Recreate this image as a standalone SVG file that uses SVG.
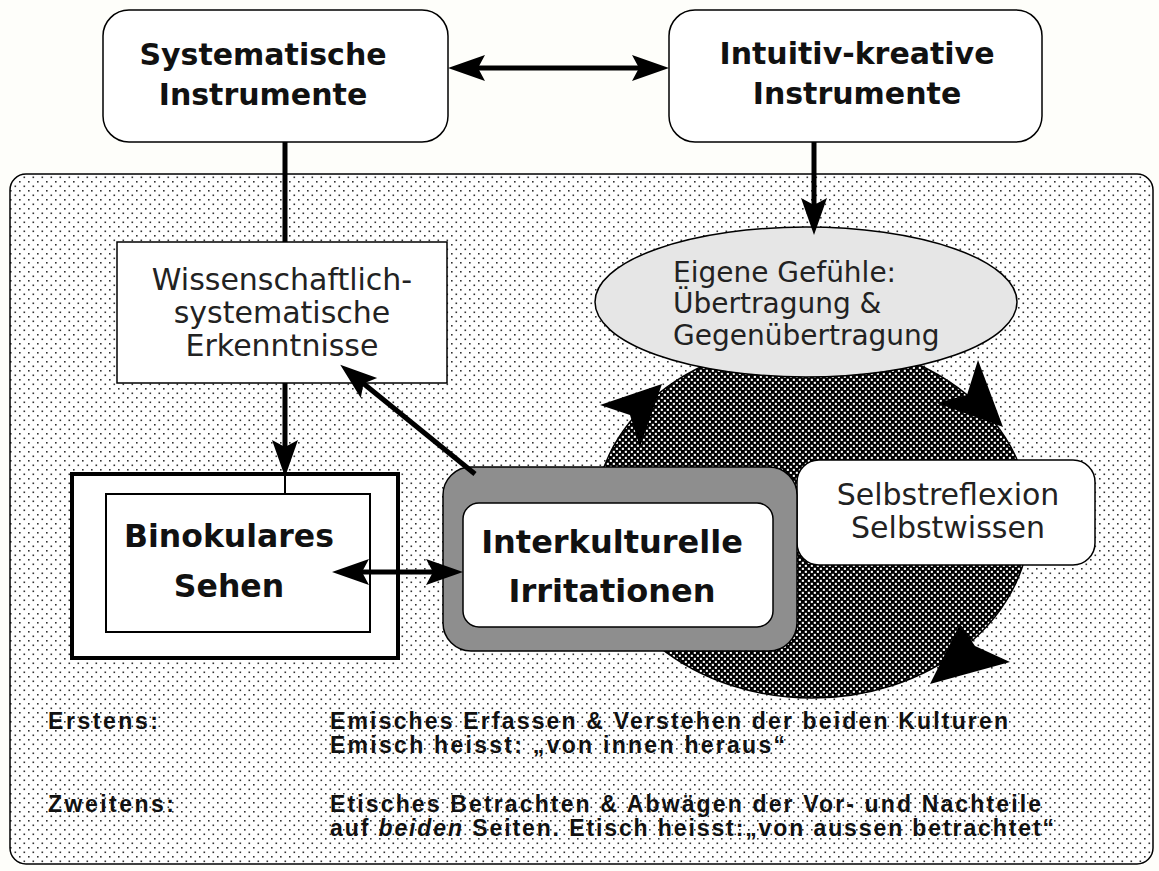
<svg xmlns="http://www.w3.org/2000/svg" width="1159" height="871" viewBox="0 0 1159 871">
<defs>
<pattern id="dots" width="9" height="9" patternUnits="userSpaceOnUse">
<rect width="9" height="9" fill="#fff"/>
<rect x="1" y="1" width="1.6" height="1.6" fill="#333"/>
<rect x="5.5" y="5.5" width="1.6" height="1.6" fill="#333"/>
</pattern>
<pattern id="dark" width="6" height="6" patternUnits="userSpaceOnUse">
<rect width="6" height="6" fill="#000"/>
<rect x="0.8" y="0.8" width="2.1" height="2.1" fill="#fff"/>
<rect x="3.8" y="3.8" width="2.1" height="2.1" fill="#fff"/>
</pattern>
<marker id="ah" markerUnits="userSpaceOnUse" viewBox="-28 -14 40 28" markerWidth="40" markerHeight="28" refX="0" refY="0" orient="auto-start-reverse">
<path d="M10,0 L-27,-13 L-20,0 L-27,13 Z" fill="#000"/>
</marker>
<style>
.bl{font-family:"DejaVu Sans",sans-serif;font-weight:bold;fill:#111;text-anchor:middle}
.rl{font-family:"DejaVu Sans",sans-serif;fill:#222;text-anchor:middle;font-size:30px}
.el{font-family:"DejaVu Sans",sans-serif;fill:#222;font-size:28px}
.ft{font-family:"Liberation Sans",Arial,sans-serif;font-weight:bold;font-size:23px;fill:#111}
.box{fill:#fff;stroke:#000;stroke-width:1.5}
.con{stroke:#000;stroke-width:5;fill:none}
</style>
</defs>
<rect width="1159" height="871" fill="#fefefa"/>
<g id="panel">
<rect x="10" y="174" width="1143" height="690" rx="16" fill="url(#dots)" stroke="#000" stroke-width="1.5"/>
</g>
<g id="cycle">
<ellipse cx="812" cy="520" rx="218" ry="178" fill="url(#dark)" stroke="#000" stroke-width="1.5"/>
<polygon points="662,384 600,405 630,415 640,447" fill="#000"/>
<polygon points="1003,427 978,360 967,395 937,403" fill="#000"/>
<polygon points="930,684 960,624 975,646 1010,662" fill="#000"/>
</g>
<g id="eigene">
<ellipse cx="806" cy="302" rx="211" ry="75" fill="#e6e6e6" stroke="#000" stroke-width="1.5"/>
<text class="el" x="673" y="282">Eigene Gefühle:</text>
<text class="el" x="673" y="313">Übertragung &amp;</text>
<text class="el" x="673" y="345">Gegenübertragung</text>
</g>
<g id="systematische">
<rect class="box" x="103" y="10" width="345" height="132" rx="26"/>
<text class="bl" font-size="30" x="263" y="65">Systematische</text>
<text class="bl" font-size="30" x="263" y="105">Instrumente</text>
</g>
<g id="intuitiv">
<rect class="box" x="669" y="10" width="373" height="132" rx="26"/>
<text class="bl" font-size="30" x="857" y="64">Intuitiv-kreative</text>
<text class="bl" font-size="30" x="857" y="104">Instrumente</text>
</g>
<g id="wissenschaftlich">
<rect class="box" x="117" y="242" width="330" height="141"/>
<text class="rl" x="282" y="290">Wissenschaftlich-</text>
<text class="rl" x="282" y="323">systematische</text>
<text class="rl" x="282" y="356">Erkenntnisse</text>
</g>
<g id="binokular">
<rect x="72" y="474" width="326" height="184" fill="#fff" stroke="#000" stroke-width="4"/>
<rect x="106" y="494" width="264" height="138" fill="#fff" stroke="#000" stroke-width="2"/>
<text class="bl" font-size="31.5" x="229" y="547">Binokulares</text>
<text class="bl" font-size="31.5" x="229" y="597">Sehen</text>
</g>
<g id="selbst">
<rect class="box" x="797" y="460" width="298" height="105" rx="22"/>
<text class="rl" x="948" y="505">Selbstreflexion</text>
<text class="rl" x="948" y="538">Selbstwissen</text>
</g>
<g id="interkulturelle">
<rect x="443" y="467" width="354" height="184" rx="28" fill="#8e8e8e" stroke="#000" stroke-width="1.5"/>
<rect class="box" x="463" y="503" width="310" height="124" rx="16"/>
<text class="bl" font-size="32" x="612" y="553">Interkulturelle</text>
<text class="bl" font-size="32" x="612" y="602">Irritationen</text>
</g>
<g id="connectors">
<line class="con" x1="458" y1="68" x2="659" y2="68" marker-start="url(#ah)" marker-end="url(#ah)"/>
<line class="con" x1="285" y1="142" x2="285" y2="242"/>
<line class="con" x1="285" y1="383" x2="285" y2="467" marker-end="url(#ah)"/>
<line x1="285" y1="475" x2="285" y2="494" stroke="#000" stroke-width="2"/>
<line class="con" x1="814" y1="142" x2="814" y2="225" marker-end="url(#ah)"/>
<line class="con" stroke-width="6" x1="475" y1="474" x2="348" y2="371" marker-end="url(#ah)"/>
<line class="con" x1="342" y1="572" x2="453" y2="572" marker-start="url(#ah)" marker-end="url(#ah)"/>
</g>
<g id="notes">
<text class="ft" x="48" y="729" textLength="110" lengthAdjust="spacing">Erstens:</text>
<text class="ft" x="330" y="729" textLength="678" lengthAdjust="spacing">Emisches Erfassen &amp; Verstehen der beiden Kulturen</text>
<text class="ft" x="330" y="753" textLength="455" lengthAdjust="spacing">Emisch heisst: „von innen heraus“</text>
<text class="ft" x="48" y="812" textLength="126" lengthAdjust="spacing">Zweitens:</text>
<text class="ft" x="330" y="812" textLength="711" lengthAdjust="spacing">Etisches Betrachten &amp; Abwägen der Vor- und Nachteile</text>
<text class="ft" x="330" y="836" textLength="724" lengthAdjust="spacing">auf <tspan font-style="italic">beiden</tspan> Seiten. Etisch heisst:„von aussen betrachtet“</text>
</g>
</svg>
